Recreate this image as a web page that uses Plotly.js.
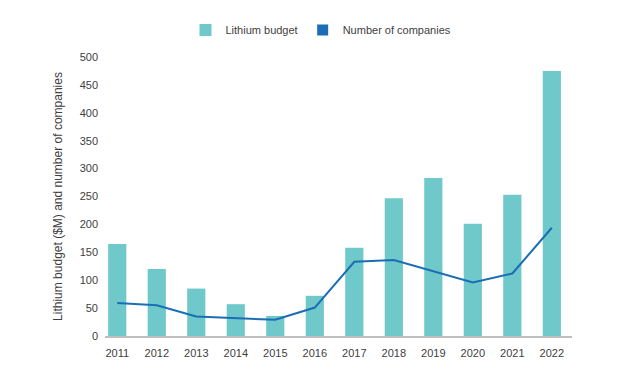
<!DOCTYPE html>
<html>
<head>
<meta charset="utf-8">
<script src="https://cdn.plot.ly/plotly-3.0.1.min.js"></script>
<style>html,body{margin:0;padding:0;background:#fff;}#chart{width:642px;height:390px;}</style>
</head>
<body>
<div id="chart"></div>
<script>
const years = ["2011","2012","2013","2014","2015","2016","2017","2018","2019","2020","2021","2022"];
const lithiumBudget = [165, 120, 85, 57, 36, 72, 158, 247, 283, 201, 253, 475];
const numberOfCompanies = [59, 55, 35, 32, 29, 51, 133, 136, 116, 96, 112, 194];
const yTicks = [0, 50, 100, 150, 200, 250, 300, 350, 400, 450, 500];

const barColor = "#6fc8c9";
const lineColor = "#1b6db5";
const textColor = "#404040";

const traces = [
  {
    type: "bar", x: years, y: lithiumBudget, name: "Lithium budget",
    marker: {color: barColor}, width: 0.46
  },
  {
    type: "scatter", mode: "lines", x: years, y: numberOfCompanies, name: "Number of companies",
    line: {color: lineColor, width: 2}, showlegend: false
  },
  {
    // legend entry only (square swatch like the reference)
    type: "scatter", mode: "markers", x: years, y: numberOfCompanies.map(() => null),
    name: "Number of companies",
    marker: {color: lineColor, symbol: "square", size: 11}, showlegend: true
  }
];

const layout = {
  width: 642, height: 390,
  margin: {l: 105, r: 70, t: 57, b: 54},
  paper_bgcolor: "#fff", plot_bgcolor: "#fff",
  font: {family: "Liberation Sans, Arial, sans-serif", size: 11, color: textColor},
  barmode: "overlay",
  showlegend: true,
  legend: {
    orientation: "h", xref: "container", yref: "container",
    x: 0.5, xanchor: "center", y: 1 - 30/390, yanchor: "middle",
    font: {size: 11, color: textColor}, traceorder: "normal"
  },
  xaxis: {
    type: "category", range: [-0.31, 11.51],
    showgrid: false, zeroline: false,
    showline: true, linecolor: "#bfbfbf", linewidth: 1.5,
    ticks: "", ticklabelstandoff: 6,
    tickfont: {size: 11, color: textColor}, fixedrange: true
  },
  yaxis: {
    range: [0, 500], tickvals: yTicks, ticktext: yTicks.map(String),
    showgrid: false, zeroline: false, showline: false,
    ticks: "", ticklabelstandoff: 6,
    tickfont: {size: 11, color: textColor},
    title: {text: "Lithium budget ($M) and number of companies", font: {size: 12, color: textColor}, standoff: 14},
    automargin: false, fixedrange: true
  }
};

Plotly.newPlot("chart", traces, layout, {displayModeBar: false, staticPlot: true});
</script>
</body>
</html>
